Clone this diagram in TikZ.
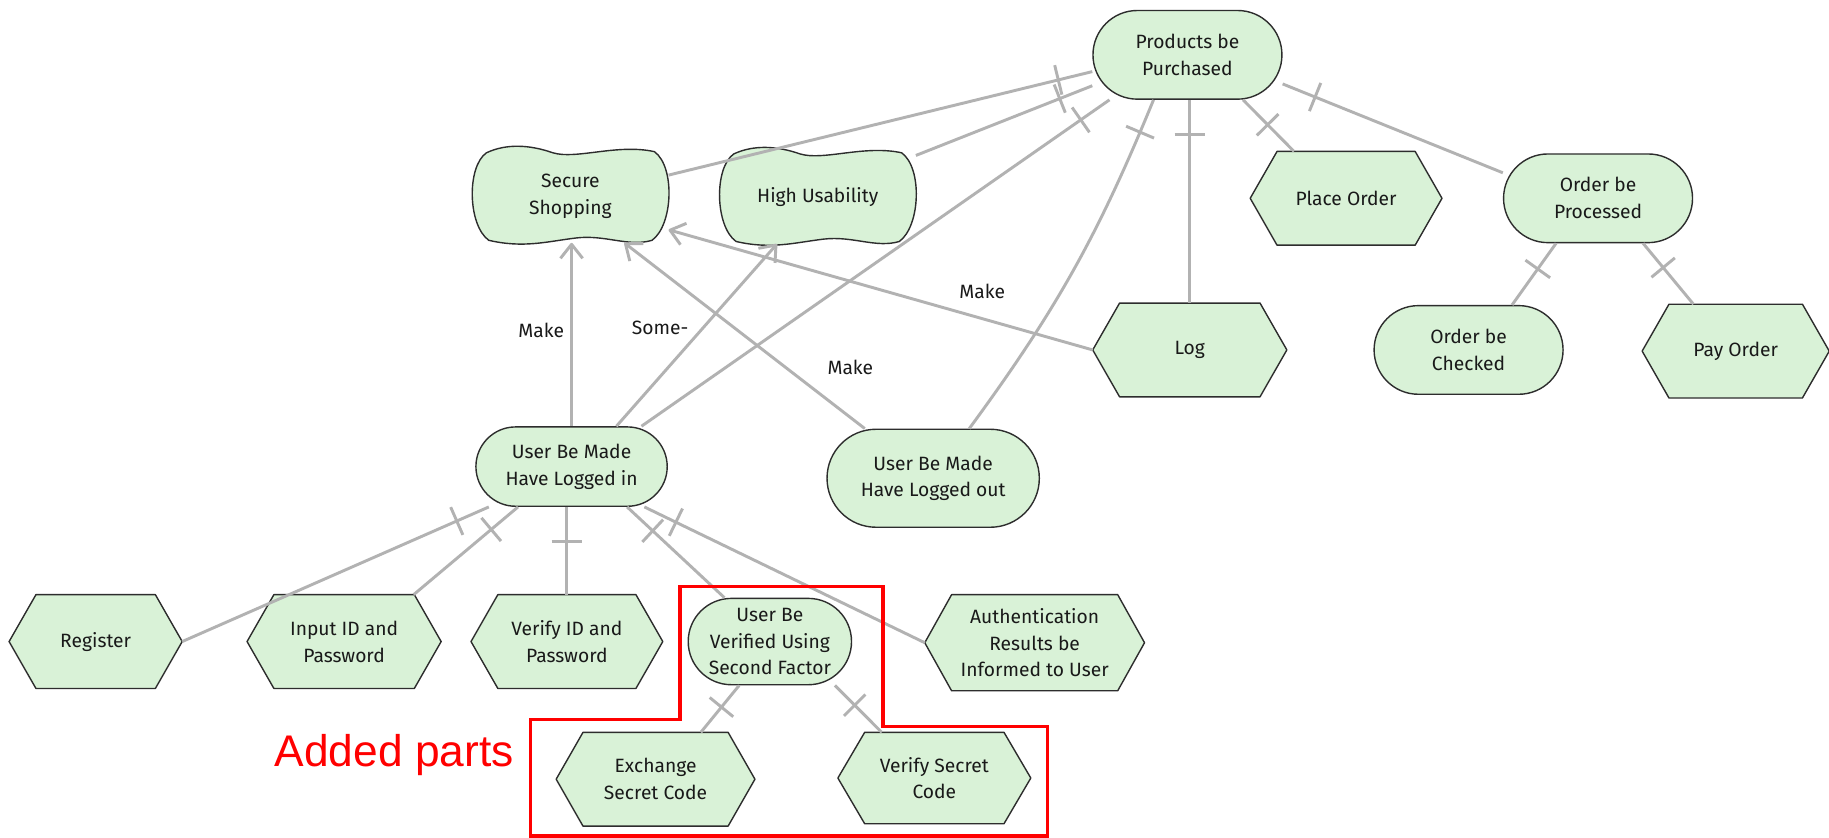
\documentclass[tikz,border=0pt]{standalone}
\usepackage{fontspec}
\setmainfont{Fira Sans}
\newfontfamily\notefont{Liberation Sans}
\usetikzlibrary{arrows.meta,decorations.markings,backgrounds}

\definecolor{boxfill}{RGB}{217,242,215}
\definecolor{boxline}{RGB}{45,45,45}
\definecolor{linkgray}{RGB}{178,178,178}

\tikzset{
  lbl/.style={font=\fontsize{16.5}{23}\selectfont, text=black!90, align=center, inner sep=0pt},
  stadium/.style={lbl, rectangle, draw=boxline, fill=boxfill, line width=1.2pt},
  plainbox/.style={lbl, rectangle},
  frame/.style={draw=boxline, fill=boxfill, line width=1.2pt, line join=round},
  link/.style={draw=linkgray, line width=2.5pt},
  arrowlink/.style={link, -{Straight Barb[length=12pt,width=19pt,line join=round]}},
  splitbar/.style={postaction={decorate},
    decoration={markings, mark=at position #1 with {\draw[linkgray, line width=2.5pt] (0pt,-13pt) -- (0pt,13pt);}}},
  splitbar/.default=30pt,
  redframe/.style={draw=red, line width=3pt},
}

% hexagon outline around a rectangular node
\newcommand\hexframe[1]{%
  \draw[frame] (#1.west) -- ([xshift=23pt]#1.north west) -- ([xshift=-23pt]#1.north east)
    -- (#1.east) -- ([xshift=-23pt]#1.south east) -- ([xshift=23pt]#1.south west) -- cycle;}

% soft-goal outline: wavy top and bottom, bulging sides
\newcommand\wavyframe[1]{%
  \draw[frame, shift={(#1.center)}]
    (-72,-37) .. controls (-55,-45) and (-35,-44) .. (-15,-37)
              .. controls (5,-31) and (40,-45) .. (72,-38)
              .. controls (90,-25) and (88,25) .. (70,38)
              .. controls (50,44) and (30,33) .. (5,36)
              .. controls (-20,39) and (-40,45) .. (-70,38)
              .. controls (-88,25) and (-89,-25) .. (-72,-37) -- cycle;}

\begin{document}
\begin{tikzpicture}[x=1pt, y=-1pt]
  \useasboundingbox (0,0) rectangle (1568,718);

  % goals
  \node[stadium, minimum width=162pt, minimum height=76pt, rounded corners=38pt] (P) at (1018,47) {Products be\\Purchased};
  \node[stadium, minimum width=162pt, minimum height=76pt, rounded corners=38pt] (OP) at (1370,170) {Order be\\Processed};
  \node[stadium, minimum width=162pt, minimum height=76pt, rounded corners=38pt] (OC) at (1259,300) {Order be\\Checked};
  \node[stadium, minimum width=164pt, minimum height=68pt, rounded corners=34pt] (LI) at (490,400) {User Be Made\\Have Logged in};
  \node[stadium, minimum width=182pt, minimum height=84pt, rounded corners=42pt] (LO) at (800,410) {User Be Made\\Have Logged out};
  \node[stadium, minimum width=140pt, minimum height=74pt, rounded corners=37pt] (UV) at (660,550) {User Be\\Verified Using\\Second Factor};

  % soft goals
  \node[plainbox, minimum width=168pt, minimum height=80pt] (SS) at (489,168) {Secure\\Shopping};
  \node[plainbox, minimum width=168pt, minimum height=80pt] (HU) at (701,169) {High Usability};

  % tasks
  \node[plainbox, minimum width=164pt, minimum height=80pt] (PO) at (1154,170) {Place Order};
  \node[plainbox, minimum width=166pt, minimum height=80pt] (Log) at (1020,300) {Log};
  \node[plainbox, minimum width=160pt, minimum height=80pt] (Pay) at (1488,301) {Pay Order};
  \node[plainbox, minimum width=148pt, minimum height=80pt] (Reg) at (82,550) {Register};
  \node[plainbox, minimum width=166pt, minimum height=80pt] (Inp) at (295,550) {Input ID and\\Password};
  \node[plainbox, minimum width=164pt, minimum height=80pt] (Ver) at (486,550) {Verify ID and\\Password};
  \node[plainbox, minimum width=188pt, minimum height=82pt] (AR) at (887,551) {Authentication\\Results be\\Informed to User};
  \node[plainbox, minimum width=170pt, minimum height=80pt] (EX) at (562,668) {Exchange\\Secret Code};
  \node[plainbox, minimum width=165pt, minimum height=78pt] (VS) at (801,667) {Verify Secret\\Code};

  \begin{scope}[on background layer]
    \fill[white] (0,0) rectangle (1568,718);
    \wavyframe{SS}
    \wavyframe{HU}
    \foreach \t in {PO,Log,Pay,Reg,Inp,Ver,AR,EX,VS} {\hexframe{\t}}
  \end{scope}

  % refinement links, bar next to the parent
  \draw[link, splitbar] (P.190) -- (SS.12);
  \draw[link, splitbar] (P.198) -- (HU.23);
  \draw[link, splitbar] (P.210) -- (LI.30);
  \draw[link, splitbar] (P.233) to[bend left=7] (LO.54);
  \draw[link, splitbar] (P.south -| Log.north) -- (Log.north);
  \draw[link, splitbar] (P.-39) -- (PO.138);
  \draw[link, splitbar] (P.-17) -- (OP.165);
  \draw[link, splitbar=27pt] (OP.227) -- (OC.46);
  \draw[link, splitbar=27pt] (OP.-45) -- (Pay.132);
  \draw[link, splitbar] (LI.206) -- (Reg.east);
  \draw[link, splitbar] (LI.217) -- (Inp.34);
  \draw[link, splitbar] (LI.south -| Ver.north) -- (Ver.north);
  \draw[link, splitbar] (LI.-36) -- (UV.136);
  \draw[link, splitbar] (LI.-29) -- (AR.west);
  \draw[link, splitbar=24pt] (UV.235) -- (EX.46);
  \draw[link, splitbar=24pt] (UV.-34) -- (VS.139);

  % contribution links
  \draw[arrowlink] (LI.north) -- (LI.north |- SS.south);
  \draw[arrowlink] (LI.42) -- (HU.-131);
  \draw[arrowlink] (LO.144) -- (SS.-41);
  \draw[arrowlink] (Log.west) -- (SS.-19);

  \node[lbl] (mk1) at (464,283) {Make};
  \node[lbl] (sm) at (566,281) {Some-};
  \node[lbl] (mk2) at (729,315) {Make};
  \node[lbl] (mk3) at (842,250) {Make};

  % highlighted extension
  \draw[redframe] (583,503) -- (757,503) -- (757,623) -- (898,623) -- (898,716.5)
    -- (455,716.5) -- (455,617) -- (583,617) -- cycle;
  \node[font=\notefont\fontsize{38}{42}\selectfont, text=red, inner sep=0pt] (added) at (338,647) {Added parts};
\end{tikzpicture}
\end{document}
